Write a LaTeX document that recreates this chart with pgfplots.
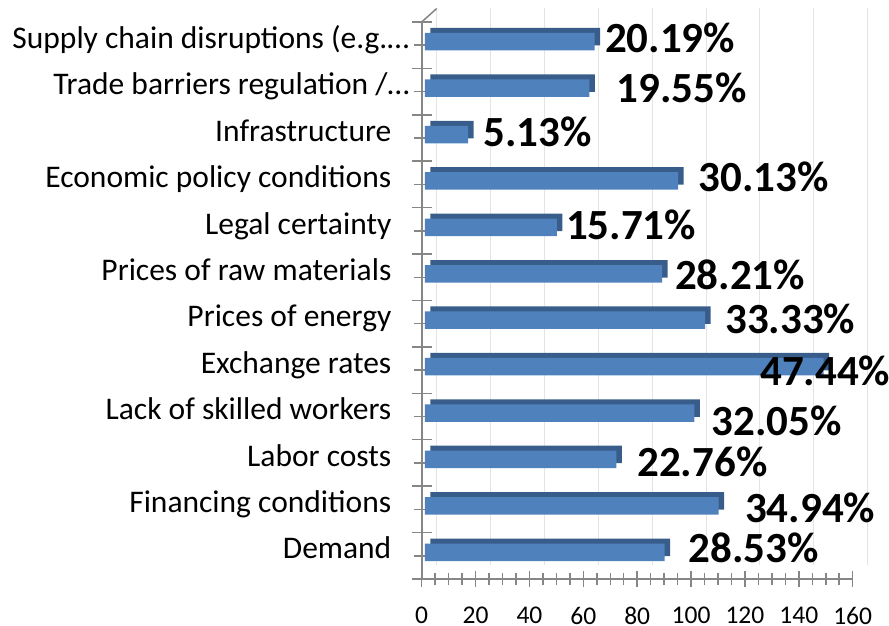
\documentclass[border=0pt]{standalone}
\usepackage{fontspec}
\setmainfont{Carlito}
\usepackage{pgfplots}
\pgfplotsset{compat=1.18}
\usetikzlibrary{calc}
\definecolor{BarFront}{RGB}{79,129,189}
\definecolor{BarDepth}{RGB}{56,93,138}
\definecolor{AxisGray}{RGB}{134,134,134}
\definecolor{WallGrid}{RGB}{228,228,228}

\begin{document}
\begin{tikzpicture}
\begin{axis}[
  name=ax,
  scale only axis,
  width=431bp, height=557bp,
  xmin=0, xmax=160,
  ymin=-0.5, ymax=11.5,
  clip=false,
  axis x line*=bottom, axis y line*=left,
  axis line style={draw=AxisGray, line width=2bp},
  tick style={draw=AxisGray, line width=1.5bp},
  tick align=center,
  major tick length=15bp,
  minor tick length=12bp,
  xtick={0,20,...,160},
  minor x tick num=3,
  ytick={0,...,11},
  yticklabels={Demand, Financing conditions, Labor costs, Lack of skilled workers,
    Exchange rates, Prices of energy, Prices of raw materials, Legal certainty,
    Economic policy conditions, Infrastructure,
    Trade barriers regulation /…\hspace*{-18bp},
    Supply chain disruptions (e.g.…\hspace*{-18bp}},
  extra y ticks={-0.5,0.5,...,11.5},
  extra y tick labels={},
  extra y tick style={major tick length=20bp},
  xmajorgrids,
  major x grid style={draw=WallGrid, line width=1bp, xshift=15bp, yshift=13.5bp},
  /pgf/number format/assume math mode=true,
  xticklabel style={font=\fontsize{25.5bp}{28bp}\selectfont, inner sep=0pt, yshift=-20.5bp},
  yticklabel style={font=\fontsize{31.5bp}{36bp}\selectfont, inner sep=0pt,
    anchor=east, text height=0.63em, text depth=0pt, xshift=-22.7bp},
]
  % depth of the 3D bars, drawn behind the front faces
  \addplot[xbar, bar width=17.5bp, bar shift=8.5bp, xshift=8.8bp, fill=BarDepth, draw=none] coordinates {
    (89,0) (109,1) (71,2) (100,3) (148,4) (104,5) (88,6) (49,7) (94,8) (16,9) (61,10) (63,11)
  };
  \addplot[xbar, bar width=17.5bp, bar shift=3.5bp, xshift=3.3bp, fill=BarFront, draw=none] coordinates {
    (89,0) (109,1) (71,2) (100,3) (148,4) (104,5) (88,6) (49,7) (94,8) (16,9) (61,10) (63,11)
  };
  % percentage labels
  \addplot[draw=none, mark=none, nodes near coords, point meta=explicit symbolic,
    every node near coord/.append style={anchor=west, inner sep=0pt, text=black,
      font=\fontsize{43bp}{46bp}\selectfont\bfseries}] coordinates {
    (68.0,11.149)[20.19\%] (72.3,10.082)[19.55\%] (22.9,9.13)[5.13\%]
    (102.7,8.167)[30.13\%] (53.5,7.138)[15.71\%] (94.0,6.05)[28.21\%]
    (112.6,5.098)[33.33\%] (125.6,3.986)[47.44\%] (107.6,2.9)[32.05\%]
    (80.0,2.028)[22.76\%] (120.0,1.023)[34.94\%] (99.0,0.162)[28.53\%]
  };
  \draw[AxisGray, line width=1.5bp] (rel axis cs:0,1) -- ++(15bp,13.5bp);
\end{axis}
\pgfresetboundingbox
\path[use as bounding box] ($(ax.south west)+(-421.7bp,-47bp)$) rectangle ($(ax.north east)+(36.3bp,22bp)$);
\end{tikzpicture}
\end{document}
